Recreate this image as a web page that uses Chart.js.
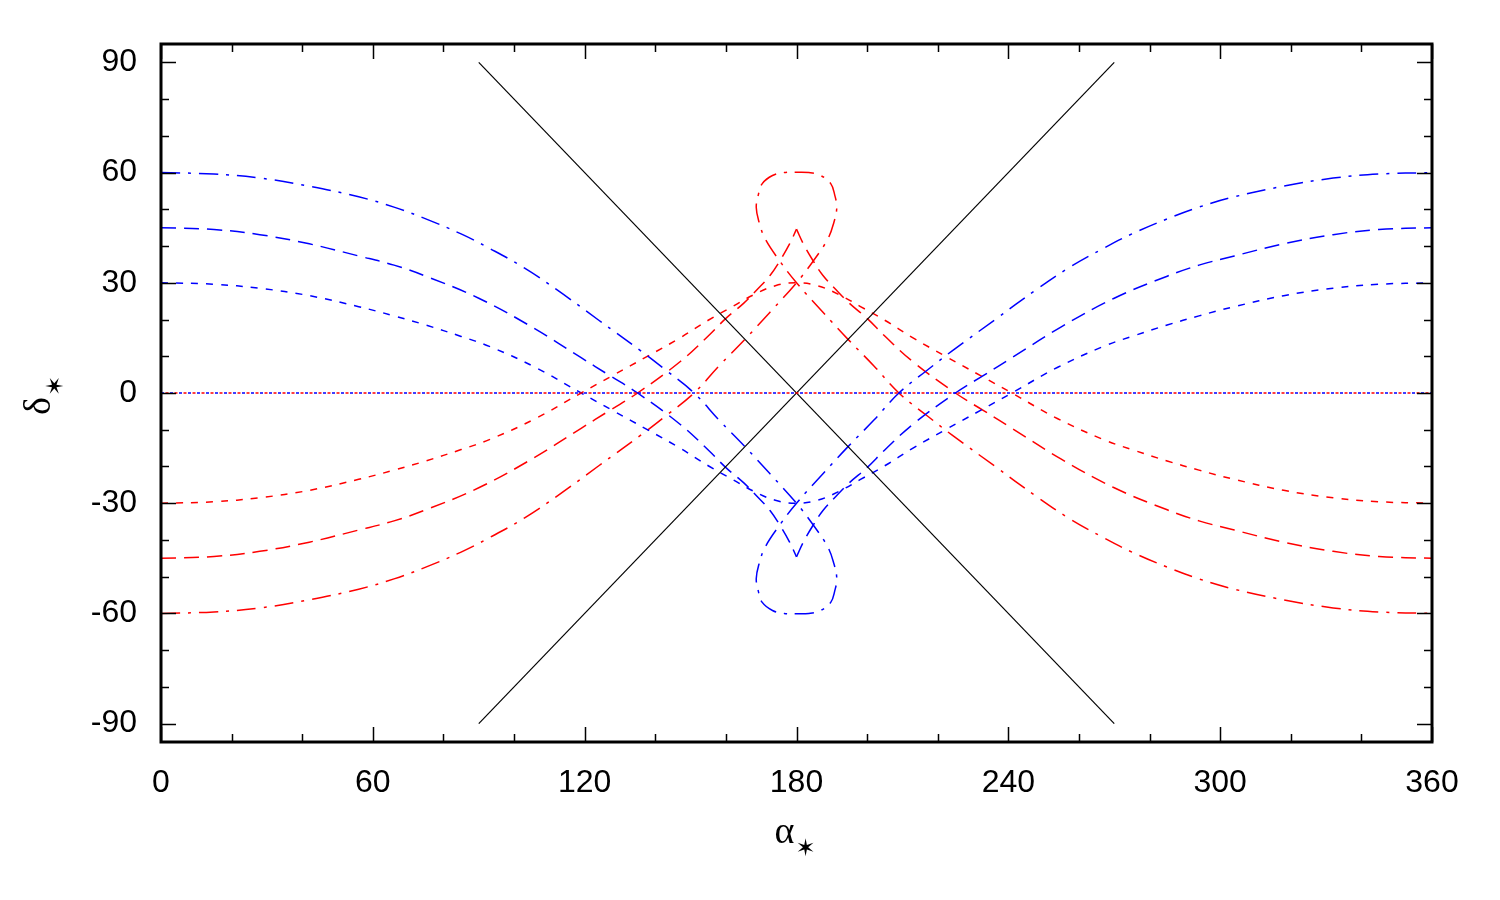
<!DOCTYPE html>
<html>
<head>
<meta charset="utf-8">
<script src="https://cdn.jsdelivr.net/npm/chart.js@4"></script>
<style>
  html, body { margin: 0; padding: 0; background: #fff; }
  #c { display: block; }
</style>
</head>
<body>
<canvas id="c" width="1500" height="900"></canvas>
<script>
// tick labels
const xTicks = [0, 60, 120, 180, 240, 300, 360];
const yTicks = [-90, -60, -30, 0, 30, 60, 90];

// blue family: [alpha*, delta*]
const blue30 = [[0,30],[15,29.6],[28,28.5],[42,26.5],[56,23.5],[66,21],[75,18.5],[85,15.4],[93,12.7],[106,7.0],[119,0],[128,-4.8],[138,-10.1],[147,-15],[155,-19.8],[162,-23.6],[168,-26.8],[174,-29.2],[180,-30],
  [186,-29.2],[192,-26.8],[198,-23.6],[205,-19.8],[213,-15],[222,-10.1],[232,-4.8],[241,0],[254,7.0],[267,12.7],[275,15.4],[285,18.5],[294,21],[304,23.5],[318,26.5],[332,28.5],[345,29.6],[360,30]];
const blue45a = [[0,45],[15,44.5],[28,43.1],[42,40.6],[56,37.3],[66,34.8],[75,31.8],[90,25.8],[105,18],[119,9.6],[127,4.8],[135,0],[147,-8.5],[155,-15.5],[160,-20.3],[165,-24.4],[169,-28.3],[172.5,-32],[175.3,-36],[178,-40.5],[180,-44.6]];
const blue45b = [[180,-44.6],[182,-40.5],[184.7,-36],[187.5,-32],[191,-28.3],[195,-24.4],[200,-20.3],[205,-15.5],[213,-8.5],[225,0],[233,4.8],[241,9.6],[255,18],[270,25.8],[285,31.8],[294,34.8],[304,37.3],[318,40.6],[332,43.1],[345,44.5],[360,45]];
const blue60 = [[0,60],[15,59.6],[28,58.5],[42,56.3],[56,53.4],[66,50.6],[75,47.4],[85,43.3],[93,39.4],[103,34],[112,28.2],[124,19.8],[136,11.4],[143,6.2],[151,0],[158,-7.3],[165.4,-14.6],[172.5,-22],[180,-30],
  [184.8,-36],[188.9,-42],[190.6,-46.5],[191.4,-50.5],[190.8,-54],[189.7,-57],[186.8,-59.2],[183.5,-60],[180,-60.1],[176.5,-60],[173.2,-59.2],[170.3,-57],[169.2,-54],[168.6,-50.5],[169.4,-46.5],[171.1,-42],[175.2,-36],[180,-30],
  [187.5,-22],[194.6,-14.6],[202,-7.3],[209,0],[217,6.2],[224,11.4],[236,19.8],[248,28.2],[257,34],[267,39.4],[275,43.3],[285,47.4],[294,50.6],[304,53.4],[318,56.3],[332,58.5],[345,59.6],[360,60]];

// red family
const red30 = [[0,-30],[15,-29.6],[28,-28.5],[42,-26.5],[56,-23.5],[66,-21],[75,-18.5],[85,-15.4],[93,-12.7],[106,-7.0],[119,0],[128,4.8],[138,10.1],[147,15],[155,19.8],[162,23.6],[168,26.8],[174,29.2],[180,30],
  [186,29.2],[192,26.8],[198,23.6],[205,19.8],[213,15],[222,10.1],[232,4.8],[241,0],[254,-7.0],[267,-12.7],[275,-15.4],[285,-18.5],[294,-21],[304,-23.5],[318,-26.5],[332,-28.5],[345,-29.6],[360,-30]];
const red45a = [[0,-45],[15,-44.5],[28,-43.1],[42,-40.6],[56,-37.3],[66,-34.8],[75,-31.8],[90,-25.8],[105,-18],[119,-9.6],[127,-4.8],[135,0],[147,8.5],[155,15.5],[160,20.3],[165,24.4],[169,28.3],[172.5,32],[175.3,36],[178,40.5],[180,44.6]];
const red45b = [[180,44.6],[182,40.5],[184.7,36],[187.5,32],[191,28.3],[195,24.4],[200,20.3],[205,15.5],[213,8.5],[225,0],[233,-4.8],[241,-9.6],[255,-18],[270,-25.8],[285,-31.8],[294,-34.8],[304,-37.3],[318,-40.6],[332,-43.1],[345,-44.5],[360,-45]];
const red60 = [[0,-60],[15,-59.6],[28,-58.5],[42,-56.3],[56,-53.4],[66,-50.6],[75,-47.4],[85,-43.3],[93,-39.4],[103,-34],[112,-28.2],[124,-19.8],[136,-11.4],[143,-6.2],[151,0],[158,7.3],[165.4,14.6],[172.5,22],[180,30],
  [184.8,36],[188.9,42],[190.6,46.5],[191.4,50.5],[190.8,54],[189.7,57],[186.8,59.2],[183.5,60],[180,60.1],[176.5,60],[173.2,59.2],[170.3,57],[169.2,54],[168.6,50.5],[169.4,46.5],[171.1,42],[175.2,36],[180,30],
  [187.5,22],[194.6,14.6],[202,7.3],[209,0],[217,-6.2],[224,-11.4],[236,-19.8],[248,-28.2],[257,-34],[267,-39.4],[275,-43.3],[285,-47.4],[294,-50.6],[304,-53.4],[318,-56.3],[332,-58.5],[345,-59.6],[360,-60]];

// equator and the two straight lines
const zeroLine = [[0,0],[360,0]];
const lineDown = [[90,90],[270,-90]];
const lineUp = [[90,-90],[270,90]];

const BLUE = '#0000ff', RED = '#ff0000';
const SHORT = [7, 8], LONG = [15, 8], DASHDOT = [19, 8, 3, 8], DOT = [3, 6];

function ds(data, color, dash, width, tension, offset) {
  return {
    data: data,
    borderColor: color,
    borderWidth: width,
    borderDash: dash,
    borderDashOffset: offset || 0,
    showLine: true,
    pointRadius: 0,
    tension: tension,
    fill: false
  };
}

// inward ticks, frame and axis titles
const framePlugin = {
  id: 'frame',
  afterDatasetsDraw(chart) {
    const ctx = chart.ctx;
    const a = chart.chartArea;
    const xs = chart.scales.x, ys = chart.scales.y;
    ctx.save();
    ctx.strokeStyle = '#000';
    ctx.lineWidth = 1.5;
    ctx.beginPath();
    for (let v = 0; v <= 360; v += 20) {
      const px = Math.round(xs.getPixelForValue(v)) + 0.5;
      const len = v % 60 === 0 ? 15 : 8;
      ctx.moveTo(px, a.bottom); ctx.lineTo(px, a.bottom - len);
      ctx.moveTo(px, a.top); ctx.lineTo(px, a.top + len);
    }
    for (let v = -90; v <= 90; v += 10) {
      const py = Math.round(ys.getPixelForValue(v)) + 0.5;
      const len = v % 30 === 0 ? 15 : 8;
      ctx.moveTo(a.left, py); ctx.lineTo(a.left + len, py);
      ctx.moveTo(a.right, py); ctx.lineTo(a.right - len, py);
    }
    ctx.stroke();
    ctx.lineWidth = 3;
    ctx.strokeRect(a.left, a.top, a.right - a.left, a.bottom - a.top);

    ctx.fillStyle = '#000';
    ctx.textBaseline = 'alphabetic';
    // x title
    const cx = (a.left + a.right) / 2;
    ctx.font = '38px "Liberation Serif", serif';
    ctx.textAlign = 'left';
    ctx.fillText('α', cx - 22, 843);
    ctx.font = '24px "DejaVu Sans", sans-serif';
    ctx.fillText('✶', cx - 1, 856);
    // y title
    ctx.translate(50, (a.top + a.bottom) / 2 + 22);
    ctx.rotate(-Math.PI / 2);
    ctx.font = '38px "Liberation Serif", serif';
    ctx.fillText('δ', 0, 0);
    ctx.font = '24px "DejaVu Sans", sans-serif';
    ctx.fillText('✶', 19, 13);
    ctx.restore();
  }
};

new Chart(document.getElementById('c'), {
  type: 'scatter',
  data: {
    datasets: [
      ds(zeroLine, BLUE, DOT, 1.5, 0, 0),
      ds(zeroLine, RED, DOT, 1.5, 0, 4.5),
      ds(lineDown, '#000', [], 1.2, 0),
      ds(lineUp, '#000', [], 1.2, 0),
      ds(blue30, BLUE, SHORT, 1.5, 0.4),
      ds(blue45a, BLUE, LONG, 1.5, 0.4),
      ds(blue45b, BLUE, LONG, 1.5, 0.4),
      ds(blue60, BLUE, DASHDOT, 1.5, 0.4),
      ds(red30, RED, SHORT, 1.5, 0.4),
      ds(red45a, RED, LONG, 1.5, 0.4),
      ds(red45b, RED, LONG, 1.5, 0.4),
      ds(red60, RED, DASHDOT, 1.5, 0.4)
    ]
  },
  options: {
    responsive: false,
    animation: false,
    layout: { padding: { left: 0, top: 44, right: 68, bottom: 58 } },
    plugins: {
      legend: { display: false },
      tooltip: { enabled: false }
    },
    scales: {
      x: {
        type: 'linear',
        min: 0, max: 360,
        afterFit(s) { s.height = 100; },
        afterBuildTicks(s) { s.ticks = xTicks.map(v => ({ value: v })); },
        grid: { display: false, drawTicks: false },
        border: { display: false },
        ticks: { color: '#000', padding: 22, maxRotation: 0, font: { family: '"Liberation Sans", Arial, sans-serif', size: 32 } }
      },
      y: {
        type: 'linear',
        min: -95, max: 95,
        afterFit(s) { s.width = 161; },
        afterBuildTicks(s) { s.ticks = yTicks.map(v => ({ value: v })); },
        grid: { display: false, drawTicks: false },
        border: { display: false },
        ticks: { color: '#000', padding: 24, font: { family: '"Liberation Sans", Arial, sans-serif', size: 32 } }
      }
    }
  },
  plugins: [framePlugin]
});
</script>
</body>
</html>
